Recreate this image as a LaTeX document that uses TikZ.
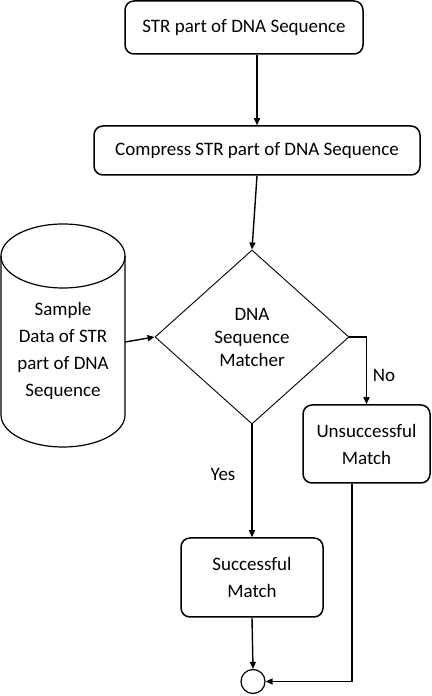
\documentclass[tikz,border=0pt]{standalone}
\usepackage{fontspec}
\setmainfont{Carlito}
\usetikzlibrary{shapes.geometric,arrows.meta,calc}
\begin{document}
\begin{tikzpicture}[x=1pt,y=1pt,
  box/.style={draw,line width=1.5pt,rounded corners=9pt,align=center,inner sep=0pt},
  dec/.style={draw,diamond,line width=0.9pt,align=center,inner sep=0pt,minimum width=194pt,minimum height=174pt},
  arr/.style={line width=1.4pt,-{Triangle[length=7pt,width=6pt]}},
  lbl/.style={font=\fontsize{19}{22}\selectfont},
  every node/.append style={font=\fontsize{19}{27}\selectfont}
]
\useasboundingbox (0,0) rectangle (431,696);
% nodes
\node[box,minimum width=238pt,minimum height=53pt] (b1) at (244,668.5) {STR part of DNA Sequence};
\node[box,minimum width=326pt,minimum height=49pt] (b2) at (257,545.5) {Compress STR part of DNA Sequence};
\node[dec,font=\fontsize{19}{23}\selectfont] (dia) at (252,359) {DNA\\Sequence\\Matcher};
\node[box,minimum width=127pt,minimum height=78pt] (uns) at (366.5,252) {Unsuccessful\\Match};
\node[box,minimum width=142pt,minimum height=79pt] (suc) at (252,118.5) {Successful\\Match};
\node[draw,circle,line width=1.2pt,minimum size=24pt,inner sep=0pt] (end) at (253,14.5) {};
% cylinder
\draw[line width=1.2pt] (1,440) -- (1,281) arc[start angle=180,end angle=360,x radius=62,y radius=32] -- (125,440);
\draw[line width=1.2pt] (63,440) ellipse[x radius=62,y radius=32];
\node[align=center] (cyl) at (63,345) {Sample\\Data of STR\\part of DNA\\Sequence};
\coordinate (cylE) at (125,354);
% connectors
\draw[arr] (b2.north |- b1.south) -- (b2.north);
\draw[arr] (b2.south) -- (dia.north);
\draw[arr] (cylE) -- (dia.west);
\draw[arr] (dia.east) -| (uns.north);
\draw[arr] (dia.south) -- (suc.north);
\draw[arr] (suc.south) -- (end.north);
\draw[arr] ([xshift=-14.5pt]uns.south) |- (end.east);
% labels
\node[lbl] (no) at (384,321) {No};
\node[lbl] (yes) at (223,222) {Yes};
\end{tikzpicture}
\end{document}
